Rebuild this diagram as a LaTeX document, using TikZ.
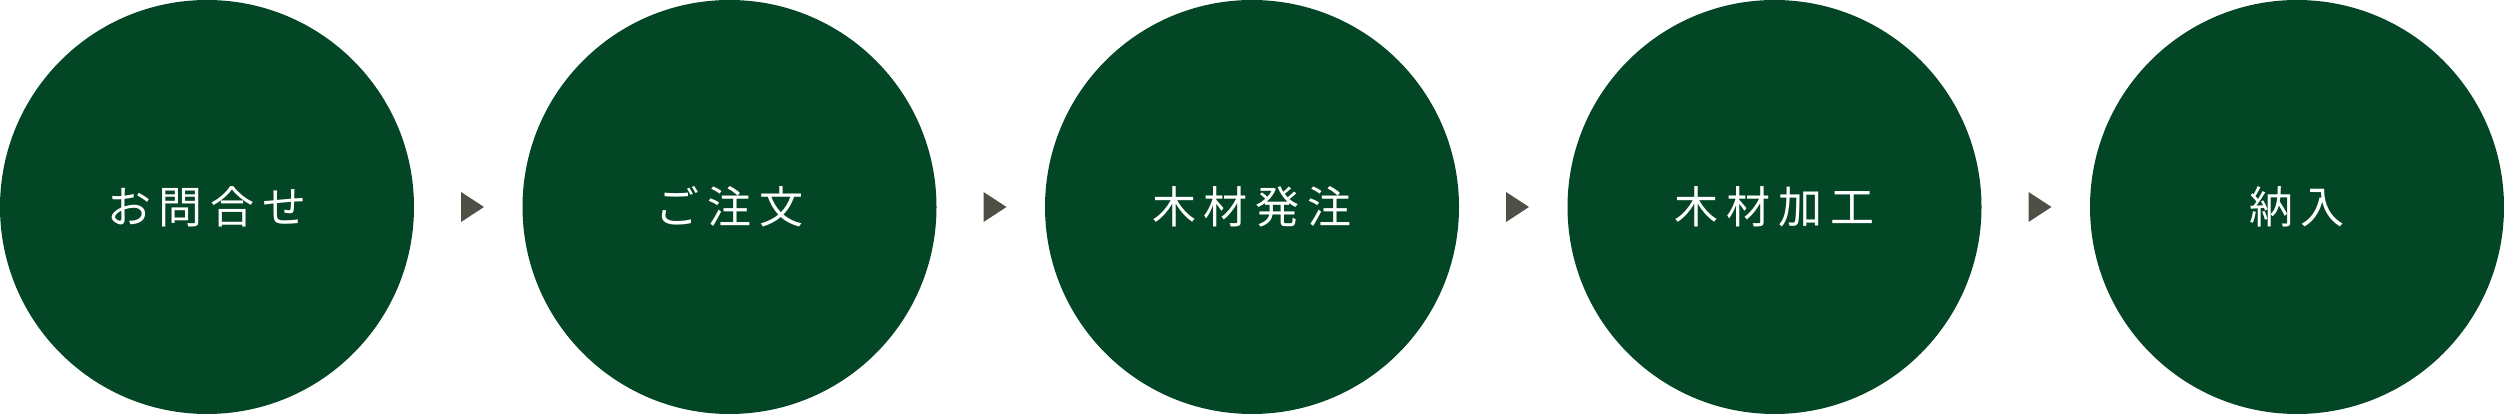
\documentclass[tikz,border=0pt]{standalone}
\usepackage{fontspec}
\newfontfamily\jp{Noto Sans CJK JP}
\definecolor{stepgreen}{RGB}{3,70,38}
\definecolor{arrowgray}{RGB}{80,79,69}
\newcommand\spacedchars[1]{\foreach \ch in {#1}{\makebox[52pt]{\ch}}}
\begin{document}
\begin{tikzpicture}[x=1pt,y=1pt,
  stepcircle/.style={circle,fill=stepgreen,draw=none,minimum size=414pt,inner sep=0pt,text=white,font=\jp\fontsize{44}{44}\selectfont},
  steparrow/.style={fill=arrowgray,draw=none}]
\useasboundingbox (0,0) rectangle (2504,414);
\node[stepcircle] (c0) at (207,207) {\spacedchars{お,問,合,せ}};
\node[stepcircle] (c1) at (729.5,207) {\spacedchars{ご,注,文}};
\node[stepcircle] (c2) at (1252,207) {\spacedchars{木,材,発,注}};
\node[stepcircle] (c3) at (1774.5,207) {\spacedchars{木,材,加,工}};
\node[stepcircle] (c4) at (2297,207) {\spacedchars{納,入}};
\foreach \i in {0,1,2,3}{
  \fill[steparrow] ([xshift=254pt]c\i.center) ++(0,15) -- ++(23,-15) -- ++(-23,-15) -- cycle;
}
\end{tikzpicture}
\end{document}
